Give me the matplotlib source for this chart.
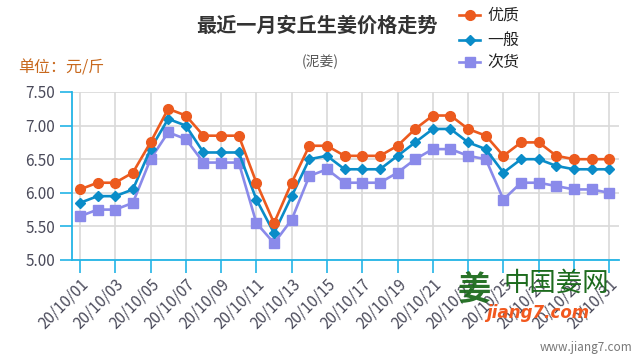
import matplotlib
matplotlib.use("Agg")
import matplotlib.pyplot as plt
from matplotlib.lines import Line2D

plt.rcParams['font.family'] = ['Noto Sans CJK SC', 'DejaVu Sans']

dates = [f"20/10/{d:02d}" for d in range(1, 32)]
youzhi = [6.05, 6.15, 6.15, 6.30, 6.75, 7.25, 7.15, 6.85, 6.85, 6.85, 6.15, 5.55, 6.15, 6.70, 6.70,
          6.55, 6.55, 6.55, 6.70, 6.95, 7.15, 7.15, 6.95, 6.85, 6.55, 6.75, 6.75, 6.55, 6.50, 6.50, 6.50]
yiban = [5.85, 5.95, 5.95, 6.05, 6.65, 7.10, 7.00, 6.60, 6.60, 6.60, 5.90, 5.40, 5.95, 6.50, 6.55,
         6.35, 6.35, 6.35, 6.55, 6.75, 6.95, 6.95, 6.75, 6.65, 6.30, 6.50, 6.50, 6.40, 6.35, 6.35, 6.35]
cihuo = [5.65, 5.75, 5.75, 5.85, 6.50, 6.90, 6.80, 6.45, 6.45, 6.45, 5.55, 5.25, 5.60, 6.25, 6.35,
         6.15, 6.15, 6.15, 6.30, 6.50, 6.65, 6.65, 6.55, 6.50, 5.90, 6.15, 6.15, 6.10, 6.05, 6.05, 6.00]
series_names = ["优质", "一般", "次货"]
y_ticks = [5.00, 5.50, 6.00, 6.50, 7.00, 7.50]

c_orange = "#ec5a1e"
c_blue = "#0a8cc8"
c_purple = "#8a8aea"
axis_c = "#22b4e6"

fig = plt.figure(figsize=(6.4, 3.6), dpi=100)
ax = fig.add_axes([72/640, 1-260/360, (619-72)/640, (260-92)/360])

x = list(range(len(dates)))
ax.plot(x, cihuo, color=c_purple, lw=1.9, marker='s', ms=6.5, zorder=3)
ax.plot(x, yiban, color=c_blue, lw=1.9, marker='D', ms=4.8, zorder=4)
ax.plot(x, youzhi, color=c_orange, lw=1.9, marker='o', ms=7, zorder=5)

ax.set_xlim(-0.45, 30.55)
ax.set_ylim(5.0, 7.5)
ax.set_yticks(y_ticks)
ax.set_yticklabels([f"{v:.2f}" for v in y_ticks])
ticks_x = x[::2]
ax.set_xticks(ticks_x)
ax.set_xticklabels(dates[::2], rotation=45, ha='right', rotation_mode='anchor')

ax.grid(True, color='#d9d9d9', lw=1.2)
ax.set_axisbelow(True)
for s in ['top', 'right']:
    ax.spines[s].set_visible(False)
for s in ['left', 'bottom']:
    ax.spines[s].set_color(axis_c)
    ax.spines[s].set_linewidth(1.3)
ax.tick_params(axis='x', colors=axis_c, length=9, width=1.2, labelcolor='#4a4a5a', labelsize=11, pad=2)
ax.tick_params(axis='y', colors=axis_c, length=9, width=1.2, labelcolor='#4a4a5a', labelsize=11, pad=3)

fig.text(317/640, 1-25/360, "最近一月安丘生姜价格走势", ha='center', va='center', fontsize=14.5,
         fontweight='bold', color='#333333')
fig.text(320/640, 1-62/360, "(泥姜)", ha='center', va='center', fontsize=10, color='#555555')
fig.text(18/640, 1-68/360, "单位：元/斤", ha='left', va='center', fontsize=11.5, color='#c8691e')

# legend
leg_items = [(series_names[0], c_orange, 'o', 7, 15), (series_names[1], c_blue, 'D', 4.8, 40),
             (series_names[2], c_purple, 's', 6.5, 62)]
for name, col, mk, ms, yy in leg_items:
    ln = Line2D([459/640, 480/640], [1-yy/360, 1-yy/360], transform=fig.transFigure,
                color=col, lw=1.9)
    fig.add_artist(ln)
    mk_ = Line2D([469.5/640], [1-yy/360], transform=fig.transFigure, color=col,
                 marker=mk, ms=ms, lw=0)
    fig.add_artist(mk_)
    fig.text(487/640, 1-yy/360, name, ha='left', va='center', fontsize=11.5, color='#222222')

# watermark
fig.text(474/640, 1-290/360, "姜", ha='center', va='center', fontsize=24, color='#1d6b1d',
         fontweight='bold', alpha=0.95)
fig.text(556/640, 1-283/360, "中国姜网", ha='center', va='center', fontsize=19, color='#1d6b1d')
fig.text(538/640, 1-313/360, "jiang7.com", ha='center', va='center', fontsize=12, color='#f2581e',
         fontweight='bold', style='italic', family=['DejaVu Sans'])
fig.text(632/640, 1-348/360, "www.jiang7.com", ha='right', va='center', fontsize=8.5, color='#777777')

fig.savefig("out.png", dpi=100)
